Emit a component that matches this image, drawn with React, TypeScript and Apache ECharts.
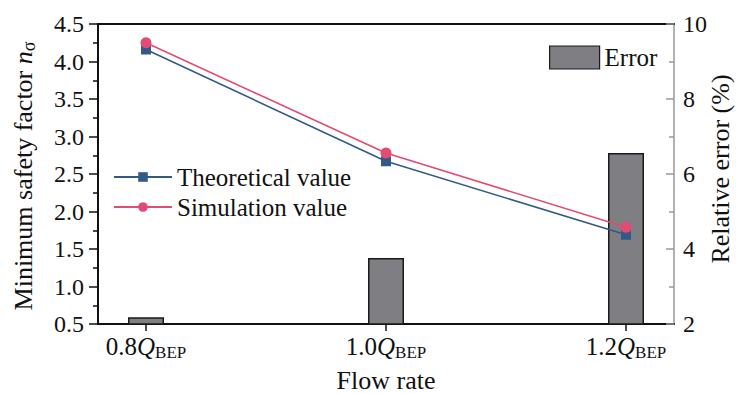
import React, { useEffect, useRef } from "react";
import * as echarts from "echarts";

// Flow rate points (fraction of Q_BEP)
const flowRates = [0.8, 1.0, 1.2];
// Minimum safety factor n_sigma
const theoretical = [4.16, 2.67, 1.69];
const simulation = [4.25, 2.78, 1.79];
// Relative error (%)
const relativeError = [2.18, 3.76, 6.56];

const leftTicks = [0.5, 4.5, 0.5]; // min, max, interval
const rightTicks = [2, 10, 2];

const FONT = "'Liberation Serif', 'Times New Roman', serif";
const BLUE = "#325a87";
const PINK = "#e44b72";
const GRAY = "#7f7f83";
const INK = "#111";

export default function App() {
  const ref = useRef<HTMLDivElement>(null);

  useEffect(() => {
    if (!ref.current) return;
    document.body.style.margin = "0";
    const chart = echarts.init(ref.current, undefined, { renderer: "svg" });

    const subRich = {
      n: { fontFamily: FONT, fontSize: 25, color: INK },
      q: { fontFamily: FONT, fontSize: 25, fontStyle: "italic", color: INK },
      sub: { fontFamily: FONT, fontSize: 17, color: INK, padding: [12, 0, 0, 0] },
    };

    chart.setOption({
      animation: false,
      textStyle: { fontFamily: FONT, color: INK },
      grid: {
        left: 98,
        right: 62,
        top: 24,
        bottom: 70,
        containLabel: false,
        outerBoundsMode: "none",
      },
      legend: [
        {
          data: ["Theoretical value", "Simulation value"],
          orient: "vertical",
          left: 108,
          top: 158,
          itemWidth: 58,
          itemHeight: 12,
          itemGap: 2,
          textStyle: { fontFamily: FONT, fontSize: 25, color: INK, lineHeight: 28 },
        },
        {
          data: [{ name: "Error", icon: "rect" }],
          left: 544,
          top: 40,
          itemWidth: 50,
          itemHeight: 23,
          textStyle: { fontFamily: FONT, fontSize: 25, color: INK },
          itemStyle: { borderColor: "#1a1a1a", borderWidth: 1.2 },
        },
      ],
      xAxis: [
        {
          type: "value",
          min: 0.76,
          max: 1.24,
          name: "Flow rate",
          nameLocation: "middle",
          nameGap: 43,
          nameMoveOverlap: false,
          nameTextStyle: { fontFamily: FONT, fontSize: 26, color: INK },
          axisLine: { show: true, lineStyle: { color: INK, width: 2 } },
          axisTick: {
            show: true,
            customValues: flowRates,
            length: 7,
            lineStyle: { color: INK, width: 1.5 },
          },
          axisLabel: {
            customValues: flowRates,
            margin: 8,
            fontFamily: FONT,
            fontSize: 25,
            color: INK,
            formatter: (v: number) => `{n|${v.toFixed(1)}}{q|Q}{sub|BEP}`,
            rich: subRich,
          },
          splitLine: { show: false },
        },
        {
          type: "value",
          position: "top",
          min: 0.76,
          max: 1.24,
          axisLine: { show: true, lineStyle: { color: INK, width: 2 } },
          axisTick: { show: false },
          axisLabel: { show: false },
          splitLine: { show: false },
        },
      ],
      yAxis: [
        {
          type: "value",
          min: leftTicks[0],
          max: leftTicks[1],
          interval: leftTicks[2],
          name: "Minimum safety factor {i|n}{s|σ}",
          nameLocation: "middle",
          nameGap: 60,
          nameMoveOverlap: false,
          nameTextStyle: {
            fontFamily: FONT,
            fontSize: 26,
            color: INK,
            padding: [0, 4, 0, 0],
            rich: {
              i: { fontFamily: FONT, fontSize: 26, fontStyle: "italic", color: INK },
              s: { fontFamily: FONT, fontSize: 18, color: INK, padding: [12, 0, 0, 0] },
            },
          },
          axisLine: { show: true, lineStyle: { color: INK, width: 2 } },
          axisTick: { show: true, length: 9, lineStyle: { color: INK, width: 1.5 } },
          minorTick: { show: true, splitNumber: 2, length: 5, lineStyle: { color: INK, width: 1.5 } },
          axisLabel: {
            margin: 14,
            fontFamily: FONT,
            fontSize: 24,
            color: INK,
            formatter: (v: number) => v.toFixed(1),
          },
          splitLine: { show: false },
        },
        {
          type: "value",
          position: "right",
          min: rightTicks[0],
          max: rightTicks[1],
          interval: rightTicks[2],
          name: "Relative error (%)",
          nameLocation: "middle",
          nameGap: 33,
          nameMoveOverlap: false,
          nameTextStyle: { fontFamily: FONT, fontSize: 26, color: INK, padding: [0, 0, 0, 10] },
          axisLine: { show: true, lineStyle: { color: "#999999", width: 1.5 } },
          axisTick: { show: true, inside: true, length: 8, lineStyle: { color: "#999999", width: 1.5 } },
          minorTick: { show: true, splitNumber: 2, length: 5, lineStyle: { color: "#999999", width: 1.5 } },
          axisLabel: { margin: 9, fontFamily: FONT, fontSize: 24, color: INK },
          splitLine: { show: false },
        },
      ],
      series: [
        {
          name: "Error",
          type: "bar",
          xAxisIndex: 0,
          yAxisIndex: 1,
          barWidth: 36,
          data: flowRates.map((x, i) => [x, relativeError[i]]),
          itemStyle: { color: GRAY, borderColor: "#1a1a1a", borderWidth: 1.5 },
          z: 1,
        },
        {
          name: "Theoretical value",
          type: "line",
          xAxisIndex: 0,
          yAxisIndex: 0,
          data: flowRates.map((x, i) => [x, theoretical[i]]),
          symbol: "rect",
          symbolSize: 10,
          color: BLUE,
          lineStyle: { color: BLUE, width: 1.6 },
          itemStyle: { color: BLUE },
          z: 3,
        },
        {
          name: "Simulation value",
          type: "line",
          xAxisIndex: 0,
          yAxisIndex: 0,
          data: flowRates.map((x, i) => [x, simulation[i]]),
          symbol: "circle",
          symbolSize: 11,
          color: PINK,
          lineStyle: { color: PINK, width: 1.6 },
          itemStyle: { color: PINK },
          z: 4,
        },
      ],
    });

    return () => chart.dispose();
  }, []);

  return (
    <div
      ref={ref}
      style={{ position: "fixed", left: 0, top: 0, width: 736, height: 394, background: "#fff" }}
    />
  );
}
